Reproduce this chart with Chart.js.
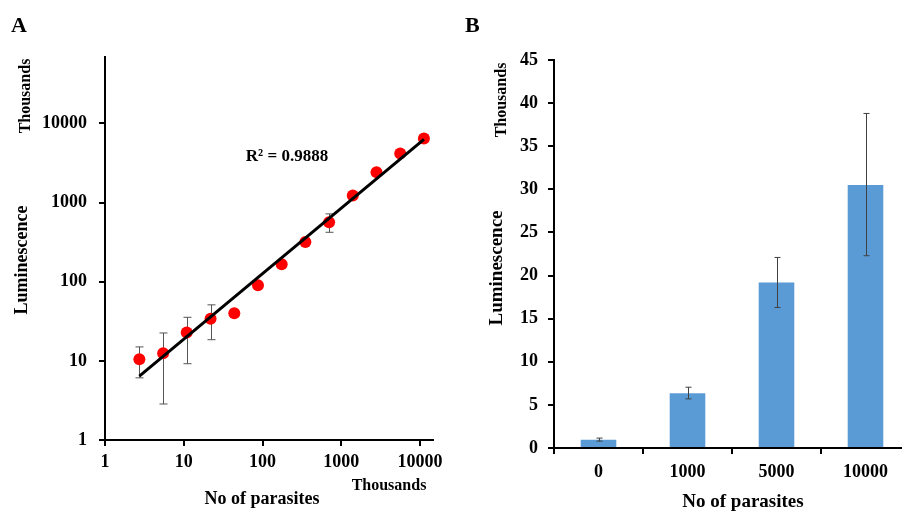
<!DOCTYPE html>
<html>
<head>
<meta charset="utf-8">
<script src="https://cdn.jsdelivr.net/npm/chart.js@4/dist/chart.umd.min.js"></script>
<style>
  body { margin: 0; width: 902px; height: 511px; overflow: hidden; background: #fff; position: relative; }
  .panel { position: absolute; top: 0; }
</style>
</head>
<body>
<div class="panel" style="left:0px;width:450px;height:511px"><canvas id="chartA" width="450" height="511"></canvas></div>
<div class="panel" style="left:460px;width:470px;height:511px"><canvas id="chartB" width="470" height="511"></canvas></div>
<script>
// Panel A - parasites (thousands) vs luminescence (thousands), log-log
const parasitesA = [2.73, 5.47, 10.9, 21.9, 43.8, 87.5, 175, 350, 700, 1400, 2800, 5600, 11200];
const lumA = [10.5, 12.5, 22.8, 34, 40, 90, 166, 317, 563, 1230, 2410, 4170, 6430];
const errHighA = [15, 22.5, 35.5, 51, null, null, null, null, 719, null, null, null, null];
const errLowA = [6.1, 2.85, 9.2, 18.5, null, null, null, null, 421, null, null, null, null];
const trendX = [2.73, 11200];
const trendY = [6.4, 6270];
const xTicksA = [1, 10, 100, 1000, 10000];
const yTicksA = [1, 10, 100, 1000, 10000];
const r2Label = 'R\u00B2 = 0.9888';

// Panel B - bar chart
const categoriesB = ['0', '1000', '5000', '10000'];
const lumB = [0.95, 6.35, 19.2, 30.5];
const errHighB = [1.15, 7.05, 22.1, 38.8];
const errLowB = [0.8, 5.7, 16.3, 22.3];

const serif = '"Liberation Serif", "Times New Roman", serif';

function drawText(ctx, text, x, y, size, rot) {
    ctx.save();
    ctx.font = 'bold ' + size + 'px ' + serif;
    ctx.fillStyle = '#000';
    ctx.textAlign = 'center';
    ctx.textBaseline = 'middle';
    ctx.translate(x, y);
    if (rot) ctx.rotate(rot);
    ctx.fillText(text, 0, 0);
    ctx.restore();
}

function errorBar(ctx, px, top, bottom, cap, color) {
    ctx.save();
    ctx.strokeStyle = color;
    ctx.lineWidth = 1;
    ctx.beginPath();
    ctx.moveTo(px, top);
    ctx.lineTo(px, bottom);
    ctx.moveTo(px - cap / 2, top);
    ctx.lineTo(px + cap / 2, top);
    ctx.moveTo(px - cap / 2, bottom);
    ctx.lineTo(px + cap / 2, bottom);
    ctx.stroke();
    ctx.restore();
}

const extrasA = {
    id: 'extrasA',
    beforeDatasetsDraw(chart) {
        const ctx = chart.ctx;
        const xs = chart.scales.x, ys = chart.scales.y;
        for (let i = 0; i < parasitesA.length; i++) {
            if (errHighA[i] == null) continue;
            const px = Math.round(xs.getPixelForValue(parasitesA[i])) + 0.5;
            errorBar(ctx, px, ys.getPixelForValue(errHighA[i]), ys.getPixelForValue(errLowA[i]), 8, '#555');
        }
    },
    afterDraw(chart) {
        const ctx = chart.ctx;
        ctx.save();
        ctx.font = 'bold 22px ' + serif;
        ctx.fillStyle = '#000';
        ctx.textBaseline = 'alphabetic';
        ctx.fillText('A', 11, 32);
        ctx.restore();
        drawText(ctx, 'Thousands', 26, 96, 16, -Math.PI / 2);
        drawText(ctx, 'Luminescence', 22, 260, 18, -Math.PI / 2);
        drawText(ctx, r2Label, 287, 157, 17);
        drawText(ctx, 'Thousands', 389, 486, 16);
        drawText(ctx, 'No of parasites', 262, 499, 18);
    }
};

const extrasB = {
    id: 'extrasB',
    afterDatasetsDraw(chart) {
        const ctx = chart.ctx;
        const xs = chart.scales.x, ys = chart.scales.y;
        for (let i = 0; i < categoriesB.length; i++) {
            const px = Math.round(xs.getPixelForValue(i)) + 0.5;
            errorBar(ctx, px, ys.getPixelForValue(errHighB[i]), ys.getPixelForValue(errLowB[i]), 6, '#404040');
        }
    },
    afterDraw(chart) {
        const ctx = chart.ctx;
        ctx.save();
        ctx.font = 'bold 22px ' + serif;
        ctx.fillStyle = '#000';
        ctx.fillText('B', 5, 32);
        ctx.restore();
        drawText(ctx, 'Thousands', 41.5, 100, 16, -Math.PI / 2);
        drawText(ctx, 'Luminescence', 37.5, 268, 19, -Math.PI / 2);
        drawText(ctx, 'No of parasites', 283, 502, 19);
    }
};

const tickFont = { family: serif, size: 18, weight: 'bold' };

// Chart A
new Chart(document.getElementById('chartA').getContext('2d'), {
    type: 'scatter',
    data: {
        datasets: [{
            label: 'Luminescence',
            data: parasitesA.map((v, i) => ({ x: v, y: lumA[i] })),
            backgroundColor: '#ff0000',
            borderColor: '#ff0000',
            pointRadius: 6,
            pointBorderWidth: 0,
            order: 2
        }, {
            label: 'Trend',
            data: trendX.map((v, i) => ({ x: v, y: trendY[i] })),
            showLine: true,
            borderColor: '#000',
            borderWidth: 3,
            pointRadius: 0,
            order: 1
        }]
    },
    options: {
        responsive: false,
        animation: false,
        layout: { padding: { left: 0, top: 57, right: 17, bottom: 0 } },
        plugins: { legend: { display: false }, tooltip: { enabled: false } },
        scales: {
            x: {
                type: 'logarithmic',
                min: 1,
                max: 14600,
                afterBuildTicks: axis => { axis.ticks = xTicksA.map(v => ({ value: v })); },
                afterFit: axis => { axis.height = 71; },
                ticks: { color: '#000', font: tickFont, padding: 6, maxRotation: 0, autoSkip: false, callback: v => String(v) },
                grid: { drawOnChartArea: false, drawTicks: true, tickLength: 6, color: '#000', lineWidth: 2 },
                border: { display: true, color: '#000', width: 2 }
            },
            y: {
                type: 'logarithmic',
                min: 1,
                max: 69000,
                afterBuildTicks: axis => { axis.ticks = yTicksA.map(v => ({ value: v })); },
                afterFit: axis => { axis.width = 105; },
                ticks: { color: '#000', font: tickFont, padding: 12, autoSkip: false, callback: v => String(v) },
                grid: { drawOnChartArea: false, drawTicks: true, tickLength: 6, color: '#000', lineWidth: 2 },
                border: { display: true, color: '#000', width: 2 }
            }
        }
    },
    plugins: [extrasA]
});

// Chart B
new Chart(document.getElementById('chartB').getContext('2d'), {
    type: 'bar',
    data: {
        labels: categoriesB,
        datasets: [{
            label: 'Luminescence',
            data: lumB,
            backgroundColor: '#5b9bd5',
            borderWidth: 0,
            barPercentage: 0.4,
            categoryPercentage: 1
        }]
    },
    options: {
        responsive: false,
        animation: false,
        layout: { padding: { left: 0, top: 60, right: 20, bottom: 0 } },
        plugins: { legend: { display: false }, tooltip: { enabled: false } },
        scales: {
            x: {
                afterFit: axis => { axis.height = 63; },
                ticks: { color: '#000', font: tickFont, padding: 8, maxRotation: 0, autoSkip: false },
                grid: { drawOnChartArea: false, drawTicks: true, tickLength: 6, color: '#000', lineWidth: 2, offset: true },
                border: { display: true, color: '#000', width: 2 }
            },
            y: {
                min: 0,
                max: 45,
                afterFit: axis => { axis.width = 94; },
                ticks: { color: '#000', font: tickFont, padding: 10, stepSize: 5, autoSkip: false },
                grid: { drawOnChartArea: false, drawTicks: true, tickLength: 6, color: '#000', lineWidth: 2 },
                border: { display: true, color: '#000', width: 2 }
            }
        }
    },
    plugins: [extrasB]
});
</script>
</body>
</html>
